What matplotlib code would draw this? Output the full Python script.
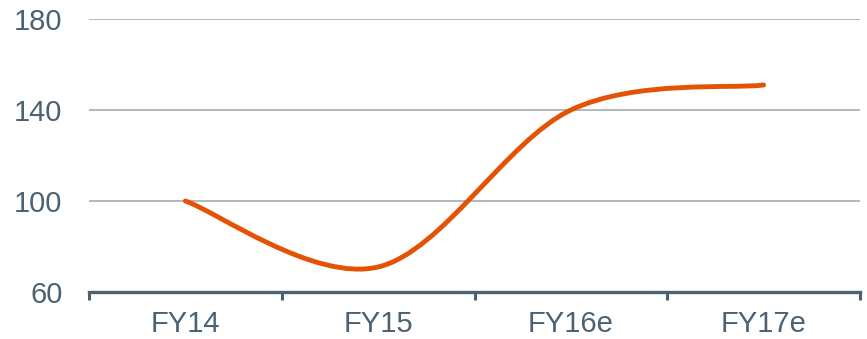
import numpy as np
import matplotlib.pyplot as plt
from matplotlib.path import Path
from matplotlib.patches import PathPatch

plt.rcParams['font.family'] = ['Liberation Sans', 'DejaVu Sans']

categories = ['FY14', 'FY15', 'FY16e', 'FY17e']
values = [100, 71, 140, 151]
yticks = [60, 100, 140, 180]

text_col = '#4a6274'
grid_col = '#a3adb5'
line_col = '#e35205'


def smooth_path(xs, ys):
    # Excel-style smoothed line: cubic bezier through each point
    pts = np.column_stack([xs, ys]).astype(float)
    n = len(pts)
    verts = [pts[0]]
    codes = [Path.MOVETO]
    for i in range(n - 1):
        p0 = pts[max(i - 1, 0)]
        p1 = pts[i]
        p2 = pts[i + 1]
        p3 = pts[min(i + 2, n - 1)]
        c1 = p1 + (p2 - p0) / 6.0
        c2 = p2 - (p3 - p1) / 6.0
        verts += [c1, c2, p2]
        codes += [Path.CURVE4] * 3
    return Path(verts, codes)


fig = plt.figure(figsize=(8.67, 3.39), dpi=100)
ax = fig.add_axes([89 / 867, 47 / 339, 771 / 867, 273 / 339])

x = np.arange(len(categories))
path = smooth_path(x, values)
ax.add_patch(PathPatch(path, facecolor='none', edgecolor=line_col, lw=3.5,
                       capstyle='round', zorder=3))

ax.set_xlim(-0.5, len(categories) - 0.5)
ax.set_ylim(60, 180)

for v in yticks[1:]:
    ax.axhline(v, color=grid_col, lw=1.2, zorder=1)

ax.set_yticks(yticks)
ax.tick_params(axis='y', length=0, pad=19, labelsize=21, labelcolor=text_col)

ax.set_xticks(np.arange(len(categories) + 1) - 0.5)
ax.set_xticklabels([])
ax.tick_params(axis='x', which='major', length=6, width=2.2, color=text_col)
ax.set_xticks(x, minor=True)
ax.set_xticklabels(categories, minor=True)
ax.tick_params(axis='x', which='minor', length=0, pad=13, labelsize=21,
               labelcolor=text_col)

for s in ['top', 'right', 'left']:
    ax.spines[s].set_visible(False)
ax.spines['bottom'].set_color(text_col)
ax.spines['bottom'].set_linewidth(2.4)

fig.savefig('out.png', dpi=100)
